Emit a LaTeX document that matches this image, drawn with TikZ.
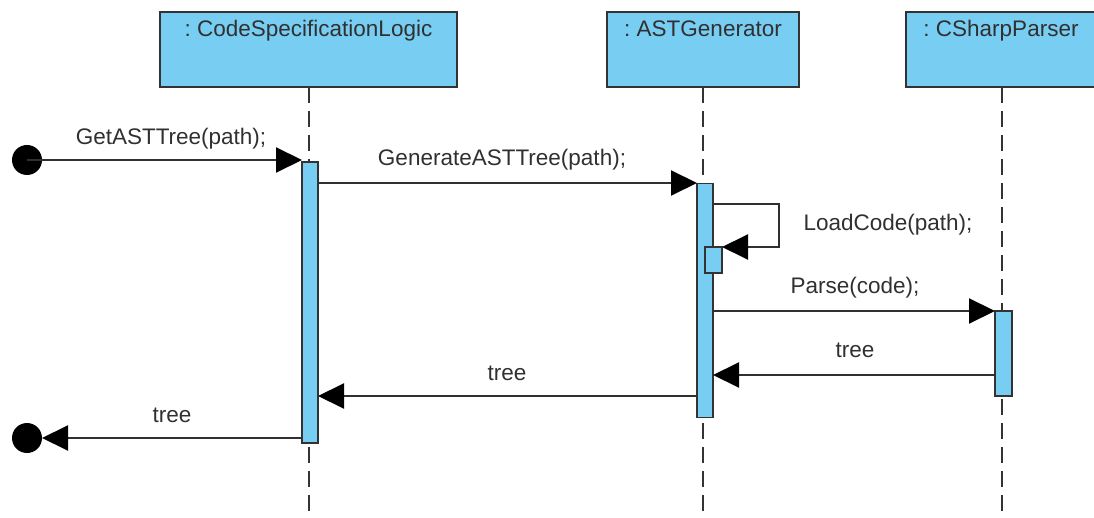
\documentclass[tikz,border=0pt]{standalone}
\usepackage{fontspec}
\setmainfont{Liberation Sans}
\usetikzlibrary{arrows.meta}
\definecolor{lifeblue}{HTML}{78CDF2}
\definecolor{edgegray}{HTML}{333333}
\definecolor{inkgray}{HTML}{303030}
\frenchspacing
\tikzset{
  headbox/.style={draw=edgegray, line width=2pt, fill=lifeblue, rectangle, inner sep=0pt, outer sep=0pt},
  actbar/.style={draw=edgegray, line width=1.6pt, fill=lifeblue, rectangle, inner sep=0pt, outer sep=0pt, minimum width=16pt},
  lifeline/.style={draw=edgegray, line width=2pt, dash pattern=on 16pt off 8pt},
  msg/.style={draw=inkgray, line width=2pt, -{Triangle[length=26pt,width=25pt,color=black]}},
  txt/.style={font=\fontsize{22.5pt}{26pt}\selectfont, text=inkgray, inner sep=0pt, anchor=base},
  endpoint/.style={circle, fill=black, inner sep=0pt, minimum size=30pt, outer sep=0pt}
}
\begin{document}
\begin{tikzpicture}[x=1pt,y=-1pt]
\useasboundingbox (0,0) rectangle (1094,518);
\clip (0,0) rectangle (1094,518);

% lifelines
\coordinate (l1bot) at (309,518);
\coordinate (l2bot) at (703,518);
\coordinate (l3bot) at (1002,518);

% object heads
\node[headbox, minimum width=297pt, minimum height=75pt] (h1) at (308.5,49.5) {};
\node[headbox, minimum width=192pt, minimum height=75pt] (h2) at (703,49.5) {};
\node[headbox, minimum width=192pt, minimum height=75pt] (h3) at (1002,49.5) {};
\node[txt] (h1t) at (308.5,37) {: CodeSpecificationLogic};
\node[txt] (h2t) at (703,37) {: ASTGenerator};
\node[txt] (h3t) at (1001,37) {: CSharpParser};

\draw[lifeline] (h1.south -| l1bot) -- (l1bot);
\draw[lifeline] (h2.south -| l2bot) -- (l2bot);
\draw[lifeline] (h3.south -| l3bot) -- (l3bot);

% activation bars
\node[actbar, minimum height=281pt] (b1) at (310,302.5) {};
\node[actbar, minimum height=234pt] (b2) at (705,300.5) {};
\node[actbar, minimum width=17pt, minimum height=26pt] (b2s) at (713.5,260) {};
\node[actbar, minimum width=17pt, minimum height=85pt] (b3) at (1003.5,353.5) {};

% start and end points
\node[endpoint] (start) at (27,160) {};
\node[endpoint] (finish) at (27,438) {};

% call chain
\draw[msg] (start.center) -- (b1.west |- start.center);
\node[txt] (m1) at (171,145) {GetASTTree(path);};

\coordinate (y2) at (0,183);
\draw[msg] (b1.east |- y2) -- (b2.west |- y2);
\node[txt] (m2) at (502,166) {GenerateASTTree(path);};

\coordinate (y3a) at (0,204);
\coordinate (loopx) at (779,0);
\draw[msg] (b2.east |- y3a) -- (loopx |- y3a) -- (loopx |- b2s.north) -- (b2s.north east);
\node[txt] (m3) at (888,231) {LoadCode(path);};

\draw[msg] (b2.east |- b3.north) -- (b3.north west);
\node[txt] (m4) at (855,294) {Parse(code);};

% replies
\coordinate (y5) at (0,375);
\draw[msg] (b3.west |- y5) -- (b2.east |- y5);
\node[txt] (m5) at (855,357) {tree};

\coordinate (y6) at (0,396);
\draw[msg] (b2.west |- y6) -- (b1.east |- y6);
\node[txt] (m6) at (507,380) {tree};

\draw[msg] (b1.west |- finish.center) -- (finish.east);
\node[txt] (m7) at (172,422) {tree};
\end{tikzpicture}
\end{document}
